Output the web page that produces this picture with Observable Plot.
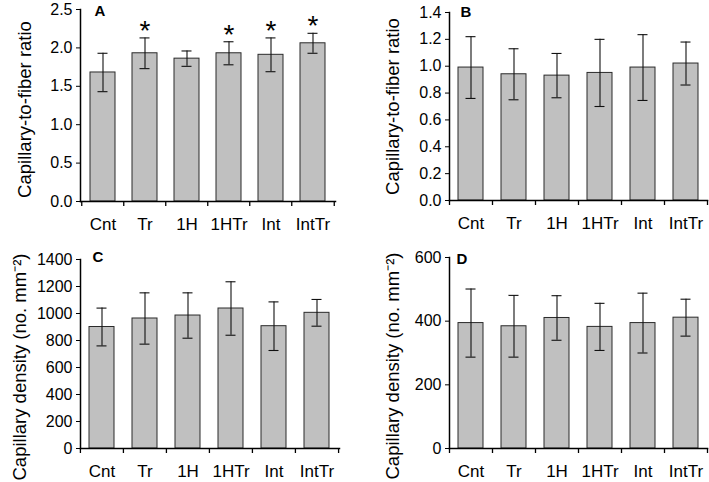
<!DOCTYPE html>
<html>
<head>
<meta charset="utf-8">
<script src="https://cdn.jsdelivr.net/npm/d3@7"></script>
<script src="https://cdn.jsdelivr.net/npm/@observablehq/plot@0.6"></script>
<style>
  html, body { margin: 0; padding: 0; background: white; }
  #wrap { position: relative; width: 709px; height: 482px; overflow: hidden; background: white; }
  #wrap svg { position: absolute; }
</style>
</head>
<body>
<div id="wrap"></div>
<script>
const categories = ["Cnt", "Tr", "1H", "1HTr", "Int", "IntTr"];

// Panel A: capillary-to-fiber ratio
const ratioA = [1.68, 1.93, 1.86, 1.93, 1.91, 2.06];
const errA   = [0.25, 0.20, 0.10, 0.15, 0.22, 0.13];
const starA  = [false, true, false, true, true, true];
const ticksA = [0, 0.5, 1.0, 1.5, 2.0, 2.5];

// Panel B: capillary-to-fiber ratio
const ratioB = [0.99, 0.94, 0.93, 0.95, 0.99, 1.02];
const errB   = [0.23, 0.19, 0.165, 0.25, 0.245, 0.16];
const ticksB = [0, 0.2, 0.4, 0.6, 0.8, 1.0, 1.2, 1.4];

// Panel C: capillary density
const densC  = [900, 963, 985, 1037, 906, 1005];
const errC   = [140, 190, 168, 198, 180, 99];
const ticksC = [0, 200, 400, 600, 800, 1000, 1200, 1400];

// Panel D: capillary density
const densD  = [394, 384, 410, 382, 394, 411];
const errD   = [107, 97, 70, 74, 94, 58];
const ticksD = [0, 200, 400, 600];

const labelRatio = "Capillary-to-fiber ratio";
const labelDensity = "Capillary density (no. mm\u207B\u00B2)";

const FONT = "'Liberation Sans', Arial, Helvetica, sans-serif";

function panel(cfg) {
  const data = categories.map((c, i) => ({
    cat: c, v: cfg.values[i], e: cfg.errs[i], s: cfg.stars ? cfg.stars[i] : false
  }));
  const step = (cfg.width - cfg.ml - cfg.mr) / categories.length;
  const svg = Plot.plot({
    width: cfg.width, height: cfg.height,
    marginLeft: cfg.ml, marginRight: cfg.mr, marginTop: cfg.mt, marginBottom: cfg.mb,
    style: { fontFamily: FONT, fontSize: "16px", background: "white", color: "black", overflow: "visible" },
    x: { domain: categories, paddingInner: 0.41, paddingOuter: 0.205, label: null },
    y: { domain: [cfg.ticks[0], cfg.ticks[cfg.ticks.length - 1]], label: null },
    marks: [
      Plot.barY(data, { x: "cat", y: "v", fill: "#c0c0c0", stroke: "#2a2a2a", strokeWidth: 1 }),
      Plot.ruleX(data, { x: "cat", y1: d => d.v - d.e, y2: d => d.v + d.e, stroke: "#111", strokeWidth: 1.1 }),
      Plot.tickY(data, { x: "cat", y: d => d.v + d.e, inset: 7.5, stroke: "#111", strokeWidth: 1.1 }),
      Plot.tickY(data, { x: "cat", y: d => d.v - d.e, inset: 7.5, stroke: "#111", strokeWidth: 1.1 }),
      Plot.text(data.filter(d => d.s), { x: "cat", y: d => d.v + d.e, text: () => "*", dy: -7, lineAnchor: "middle", fontSize: 28 }),
      Plot.axisY({ ticks: cfg.ticks, tickFormat: cfg.fmt, tickSize: 4, tickPadding: 4, fontSize: 16, label: null }),
      Plot.axisX({ tickSize: 0, tickPadding: 16, fontSize: 17, label: null }),
      Plot.frame({ anchor: "left", stroke: "black", strokeWidth: 1.5 }),
      Plot.frame({ anchor: "bottom", stroke: "black", strokeWidth: 1.5 }),
      Plot.ruleX(categories, { x: d => d, dx: -step / 2, y1: 0, y2: 0, insetBottom: -5, stroke: "black", strokeWidth: 1.3 }),
      Plot.ruleX(categories.slice(-1), { x: d => d, dx: step / 2, y1: 0, y2: 0, insetBottom: -5, stroke: "black", strokeWidth: 1.3 }),
      Plot.text([cfg.label], { frameAnchor: "left", rotate: -90, dx: cfg.labelX - cfg.ml, dy: cfg.labelDy, fontSize: 18.5, textAnchor: "middle", lineAnchor: "middle" }),
      Plot.text([cfg.letter], { frameAnchor: "top-left", dx: cfg.letterDx, dy: cfg.letterDy, fontSize: 15, fontWeight: "bold", textAnchor: "start", lineAnchor: "top" })
    ]
  });
  svg.style.left = cfg.left + "px";
  svg.style.top = cfg.top + "px";
  document.getElementById("wrap").appendChild(svg);
}

const f1 = d => d.toFixed(1);
const f0 = d => String(d);

panel({ values: ratioA, errs: errA, stars: starA, ticks: ticksA, fmt: f1, label: labelRatio, letter: "A",
  left: 0, top: 0, width: 355, height: 240, ml: 80, mr: 20, mt: 9, mb: 39, labelX: 25, labelDy: 4, letterDx: 14, letterDy: -4 });
panel({ values: ratioB, errs: errB, ticks: ticksB, fmt: f1, label: labelRatio, letter: "B",
  left: 355, top: 0, width: 354, height: 240, ml: 94, mr: 2, mt: 12, mb: 40, labelX: 38, labelDy: 0, letterDx: 11, letterDy: -6 });
panel({ values: densC, errs: errC, ticks: ticksC, fmt: f0, label: labelDensity, letter: "C",
  left: 0, top: 240, width: 355, height: 242, ml: 80, mr: 16, mt: 19, mb: 34, labelX: 20, labelDy: 13, letterDx: 12, letterDy: -8 });
panel({ values: densD, errs: errD, ticks: ticksD, fmt: f0, label: labelDensity, letter: "D",
  left: 355, top: 240, width: 354, height: 242, ml: 94, mr: 2, mt: 17, mb: 34, labelX: 38, labelDy: 13, letterDx: 7, letterDy: -4 });
</script>
</body>
</html>
